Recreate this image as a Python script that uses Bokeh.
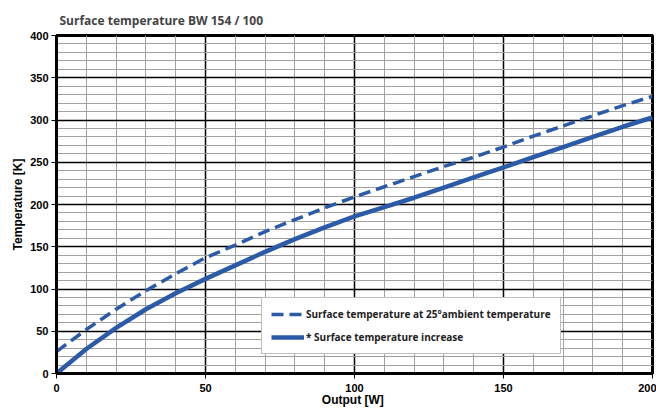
from bokeh.plotting import figure
from bokeh.models import SingleIntervalTicker, Range1d, Legend, LegendItem
from bokeh.embed import file_html
from bokeh.resources import INLINE

# Data
output_w = [0, 10, 20, 30, 40, 50, 60, 70, 80, 90, 100,
            110, 120, 130, 140, 150, 160, 170, 180, 190, 200]
surface_temp_25 = [26, 52, 76, 98, 118, 137, 152, 168, 182, 196, 209,
                   221, 233, 245, 256, 268, 281, 293, 305, 317, 328]
surface_temp_increase = [0, 29, 54, 76, 95, 112, 128, 144, 159, 173, 186,
                         197, 208, 220, 232, 244, 256, 268, 280, 292, 303]

title_text = "Surface temperature BW 154 / 100"
x_label = "Output  [W]"
y_label = "Temperature [K]"
legend_labels = ["Surface temperature at 25\u00b0ambient temperature",
                 "* Surface temperature increase"]

BLUE = "#2b5aa8"

p = figure(width=656, height=410, output_backend="svg", toolbar_location=None,
           x_range=Range1d(0, 200), y_range=Range1d(0, 400),
           min_border_left=56, min_border_right=4, min_border_top=35,
           min_border_bottom=37, background_fill_color="white",
           border_fill_color="white")

p.title.text = title_text
p.title.text_font = "Open Sans"
p.title.text_font_size = "12px"
p.title.text_font_style = "bold"
p.title.align = "left"
p.title.vertical_align = "top"
p.title.offset = 3
p.title.standoff = 10

p.outline_line_color = "black"
p.outline_line_width = 3
p.outline_line_alpha = 1

xt = SingleIntervalTicker(interval=50, num_minor_ticks=5)
yt = SingleIntervalTicker(interval=50, num_minor_ticks=5)
p.xaxis.ticker = xt
p.yaxis.ticker = yt
p.xgrid.ticker = xt
p.ygrid.ticker = yt

for g in (p.xgrid, p.ygrid):
    g.grid_line_color = "black"
    g.grid_line_width = 1.5
    g.minor_grid_line_color = "#a0a0a0"
    g.minor_grid_line_width = 1

for ax in (p.xaxis, p.yaxis):
    ax.axis_line_color = "black"
    ax.axis_line_width = 3
    ax.major_tick_line_color = "black"
    ax.major_tick_line_width = 1
    ax.major_tick_out = 5
    ax.major_tick_in = 0
    ax.minor_tick_line_color = None
    ax.major_label_text_font = "Liberation Sans"
    ax.major_label_text_font_style = "bold"
    ax.major_label_text_font_size = "11px"
    ax.major_label_text_color = "black"
    ax.axis_label_text_font = "Liberation Sans"
    ax.axis_label_text_font_style = "bold"
    ax.axis_label_text_font_size = "12px"
    ax.axis_label_text_color = "black"

p.xaxis.axis_label = x_label
p.yaxis.axis_label = y_label
p.xaxis.major_label_standoff = 5
p.xaxis.axis_label_standoff = -2
p.yaxis.major_label_standoff = 3
p.yaxis.axis_label_standoff = 2

r_dash = p.line(output_w, surface_temp_25, line_color=BLUE, line_width=3.5,
                line_dash="12 6")
r_solid = p.line(output_w, surface_temp_increase, line_color=BLUE, line_width=4.5)

legend = Legend(items=[LegendItem(label=legend_labels[0], renderers=[r_dash]),
                       LegendItem(label=legend_labels[1], renderers=[r_solid])],
                location=(205, 19))
legend.label_text_font = "Open Sans"
legend.label_text_font_style = "bold"
legend.label_text_font_size = "10px"
legend.label_text_color = "#222222"
legend.glyph_width = 33
legend.glyph_height = 14
legend.label_height = 14
legend.label_standoff = 2
legend.spacing = 9
legend.padding = 9
legend.margin = 0
legend.border_line_color = "#808080"
legend.border_line_width = 1
legend.background_fill_color = "white"
legend.background_fill_alpha = 1
p.add_layout(legend)

open("out.html", "w").write(file_html(p, INLINE))
